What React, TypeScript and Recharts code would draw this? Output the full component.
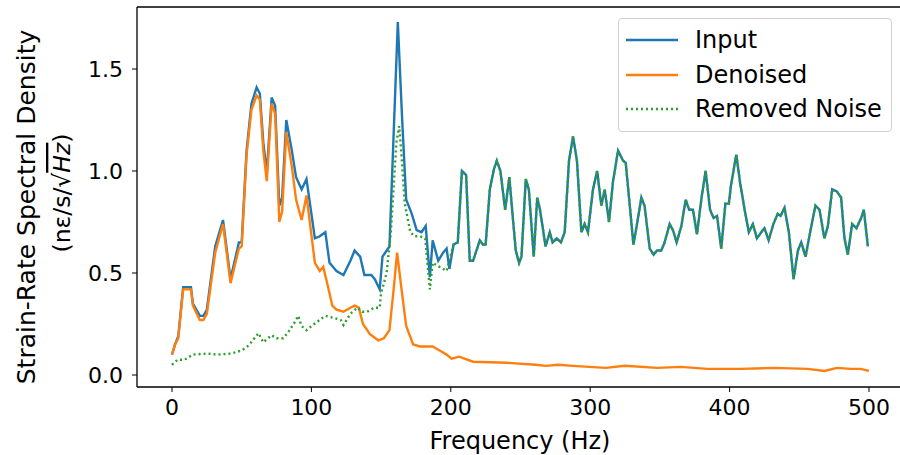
import React from "react";
import { LineChart, Line, XAxis, YAxis, Legend, ReferenceLine } from "recharts";

// frequency (Hz) / spectral density pairs
const inputFreq = [
  0, 2.2, 4.5, 8, 13.6, 15, 20, 22.5, 25, 31, 36.6, 42, 48, 50, 53.5, 57, 60.7, 63, 65.5, 68,
  71.5, 74, 77, 79, 82, 86, 89, 93, 96.5, 102.5, 106, 110, 113, 118, 123, 128, 131, 135, 138, 143,
  145.5, 149, 151, 156, 159, 162, 165, 168, 172, 175.5, 179, 182, 185, 187, 191, 194.5, 197, 199, 202, 205,
  208, 211, 213.6, 216, 218.4, 220.8, 223, 225, 228, 231, 233, 235.6, 239, 242, 244, 246.6, 249, 250.7, 253.8, 256,
  259.5, 262, 264, 268, 271, 273, 276, 279, 281.7, 284.8, 287.7, 290.5, 293.7, 296, 298.4, 302, 305, 308, 310.4, 313.5,
  316.4, 320, 323.6, 325.5, 328.4, 331, 333.6, 336.7, 339, 342.7, 345.5, 348, 351, 353.4, 357, 359.4, 362, 365.4, 368.5, 371,
  373.7, 376.6, 379.7, 382.8, 386, 388.5, 391, 394, 397, 399.5, 401, 404.8, 407.6, 410.8, 413.8, 416.7, 419.6, 422.7, 425, 428,
  431.4, 434.5, 436.6, 439.4, 442.5, 445.9, 449, 451.4, 454.5, 457.8, 461.6, 464.5, 468, 470.5, 473.6, 476.9, 480, 482.4, 484.8, 487.9,
  491, 494.4, 496.3, 499.2,
];
const inputVal = [
  0.1, 0.15, 0.19, 0.43, 0.43, 0.35, 0.29, 0.29, 0.32, 0.63, 0.76, 0.47, 0.65, 0.65, 1.1, 1.33, 1.41, 1.38, 1.14, 0.99,
  1.36, 1.32, 0.83, 0.87, 1.25, 1.1, 0.97, 0.91, 0.96, 0.67, 0.68, 0.7, 0.55, 0.51, 0.49, 0.56, 0.61, 0.58, 0.49, 0.49,
  0.47, 0.42, 0.58, 0.63, 1.18, 1.73, 1.27, 0.86, 0.79, 0.71, 0.7, 0.73, 0.48, 0.66, 0.56, 0.6, 0.62, 0.52, 0.64, 0.65,
  1.0, 0.98, 0.56, 0.56, 0.61, 0.66, 0.64, 0.64, 0.91, 1.01, 1.05, 1.0, 0.81, 0.97, 0.81, 0.61, 0.55, 0.58, 0.96, 0.91,
  0.58, 0.87, 0.81, 0.63, 0.7, 0.65, 0.67, 0.65, 0.7, 1.05, 1.17, 1.05, 0.7, 0.74, 0.7, 0.91, 1.0, 0.83, 0.91, 0.75,
  0.95, 1.1, 1.05, 1.04, 0.83, 0.64, 0.74, 0.87, 0.83, 0.62, 0.59, 0.61, 0.61, 0.65, 0.74, 0.71, 0.65, 0.73, 0.86, 0.81,
  0.81, 0.69, 0.86, 1.0, 0.81, 0.77, 0.78, 0.62, 0.84, 0.84, 0.93, 1.08, 0.94, 0.81, 0.7, 0.74, 0.67, 0.7, 0.72, 0.66,
  0.74, 0.79, 0.78, 0.82, 0.7, 0.47, 0.61, 0.65, 0.58, 0.7, 0.83, 0.81, 0.67, 0.73, 0.91, 0.9, 0.87, 0.67, 0.59, 0.74,
  0.72, 0.77, 0.81, 0.63,
];

const denoisedFreq = [
  0, 2.2, 4.5, 8, 13.6, 15, 20, 22.5, 25, 31, 36.6, 42, 48, 50, 53.5, 57, 60.7, 63, 65.5, 68,
  71.5, 74, 77, 79, 82, 86, 89, 93, 96.5, 102.5, 106, 108.5, 112, 115, 118, 123, 128, 131, 134, 137,
  142, 148, 152, 156, 159, 161.5, 164.5, 168, 173, 178, 183, 187, 192, 197, 200.5, 206, 216, 240, 261, 268,
  277, 287.5, 311, 325, 348, 365, 384, 408, 432, 456, 468, 477, 487, 494, 500,
];
const denoisedVal = [
  0.1, 0.15, 0.18, 0.42, 0.42, 0.34, 0.27, 0.27, 0.3, 0.6, 0.74, 0.45, 0.62, 0.63, 1.08, 1.3, 1.37, 1.35, 1.1, 0.95,
  1.33, 1.28, 0.75, 0.8, 1.19, 1.02, 0.86, 0.76, 0.88, 0.55, 0.51, 0.53, 0.43, 0.34, 0.32, 0.31, 0.33, 0.34, 0.33, 0.25,
  0.2, 0.17, 0.18, 0.22, 0.42, 0.6, 0.43, 0.24, 0.15, 0.14, 0.14, 0.14, 0.12, 0.1, 0.08, 0.09, 0.065, 0.06, 0.05, 0.045,
  0.05, 0.045, 0.035, 0.045, 0.035, 0.04, 0.03, 0.03, 0.035, 0.03, 0.02, 0.035, 0.03, 0.03, 0.02,
];

// removed noise below ~205 Hz; above that it follows the input
const noiseLowFreq = [
  0, 4, 9, 15, 25, 33, 42, 50, 55, 62, 65.5, 71.4, 75, 79.8, 83.4, 88.2, 90.5, 93, 96.5, 101,
  106, 110, 116, 121, 123, 128, 133, 136.5, 140, 145, 149, 150, 154, 157, 161, 163, 164.5, 167, 171, 174,
  178, 181.6, 185, 187, 192, 197, 202,
];
const noiseLowVal = [
  0.05, 0.075, 0.075, 0.1, 0.105, 0.1, 0.105, 0.12, 0.145, 0.205, 0.16, 0.195, 0.18, 0.18, 0.21, 0.26, 0.29, 0.24, 0.22, 0.245,
  0.27, 0.29, 0.28, 0.27, 0.245, 0.3, 0.33, 0.31, 0.31, 0.33, 0.33, 0.4, 0.5, 0.7, 1.14, 1.22, 1.09, 0.84, 0.7, 0.68,
  0.68, 0.67, 0.42, 0.55, 0.53, 0.51, 0.64,
];

const xTicks = [0, 100, 200, 300, 400, 500];
const yTicks = [0, 0.5, 1.0, 1.5];

const toPoints = (fs: number[], vs: number[]) => fs.map((f, i) => ({ f, v: vs[i] }));

const inputData = toPoints(inputFreq, inputVal);
const denoisedData = toPoints(denoisedFreq, denoisedVal);
const noiseData = [
  ...toPoints(noiseLowFreq, noiseLowVal),
  ...inputData.filter((d) => d.f > 202),
];

const FONT = "DejaVu Sans, sans-serif";
const X_DOMAIN: [number, number] = [-25.1, 524.4];
const Y_DOMAIN: [number, number] = [-0.0588, 1.804];

const legendItems = [
  { name: "Input", color: "#1f77b4", dash: undefined },
  { name: "Denoised", color: "#ff7f0e", dash: undefined },
  { name: "Removed Noise", color: "#2ca02c", dash: "2 3" },
];

function LegendBox() {
  return (
    <div
      style={{
        width: 272,
        height: 112,
        border: "1px solid #d0d0d0",
        borderRadius: 4,
        background: "rgba(255,255,255,0.85)",
        fontFamily: FONT,
        fontSize: 24,
        color: "#000",
        position: "relative",
      }}
    >
      {legendItems.map((it, i) => (
        <div key={it.name} style={{ position: "absolute", left: 0, top: 7 + i * 34.5, height: 28, display: "flex", alignItems: "center" }}>
          <svg width={62} height={28} style={{ marginLeft: 5 }}>
            <line x1={2} x2={54} y1={14} y2={14} stroke={it.color} strokeWidth={2.4} strokeDasharray={it.dash} />
          </svg>
          <span style={{ marginLeft: 9, whiteSpace: "nowrap" }}>{it.name}</span>
        </div>
      ))}
    </div>
  );
}

function YLabel() {
  const cy = 207;
  return (
    <g fontFamily={FONT} fill="#000">
      <text x={0} y={0} transform={`translate(35 ${cy}) rotate(-90)`} textAnchor="middle" fontSize={25}>
        Strain-Rate Spectral Density
      </text>
      <text x={0} y={0} transform={`translate(70 193) rotate(-90)`} textAnchor="middle" fontSize={23.5}>
        (nε/s/√<tspan fontStyle="italic" style={{ textDecoration: "overline" }}>Hz</tspan>)
      </text>
    </g>
  );
}

export default function App() {
  return (
    <div style={{ position: "absolute", left: 0, top: 0, width: 900, height: 455, overflow: "hidden", background: "#fff" }}>
      <LineChart width={910} height={455} margin={{ top: 7, right: 7, bottom: 0, left: 0 }}>
        <XAxis
          dataKey="f"
          type="number"
          domain={X_DOMAIN}
          ticks={xTicks}
          allowDataOverflow
          height={68}
          tickSize={5}
          tickMargin={7}
          stroke="#000"
          axisLine={{ stroke: "#000", strokeWidth: 1.3 }}
          tick={{ fill: "#000", fontSize: 22, fontFamily: FONT }}
          label={{ value: "Frequency (Hz)", position: "insideBottom", offset: 6, fill: "#000", fontSize: 24, fontFamily: FONT }}
        />
        <YAxis
          dataKey="v"
          type="number"
          domain={Y_DOMAIN}
          ticks={yTicks}
          allowDataOverflow
          width={137}
          tickSize={5}
          tickMargin={9}
          stroke="#000"
          axisLine={{ stroke: "#000", strokeWidth: 1.3 }}
          tick={{ fill: "#000", fontSize: 22, fontFamily: FONT }}
          tickFormatter={(v: number) => v.toFixed(1)}
          label={{ content: () => <YLabel /> }}
        />
        <ReferenceLine y={Y_DOMAIN[1]} stroke="#000" strokeWidth={1.3} />
        <Line data={inputData} dataKey="v" name="Input" stroke="#1f77b4" strokeWidth={2.4} dot={false} isAnimationActive={false} />
        <Line data={denoisedData} dataKey="v" name="Denoised" stroke="#ff7f0e" strokeWidth={2.4} dot={false} isAnimationActive={false} />
        <Line
          data={noiseData}
          dataKey="v"
          name="Removed Noise"
          stroke="#2ca02c"
          strokeWidth={2.4}
          strokeDasharray="2 3"
          dot={false}
          isAnimationActive={false}
        />
        <Legend
          layout="horizontal"
          verticalAlign="middle"
          align="center"
          wrapperStyle={{ top: 18, left: 618, width: 274 }}
          content={() => <LegendBox />}
        />
      </LineChart>
    </div>
  );
}
